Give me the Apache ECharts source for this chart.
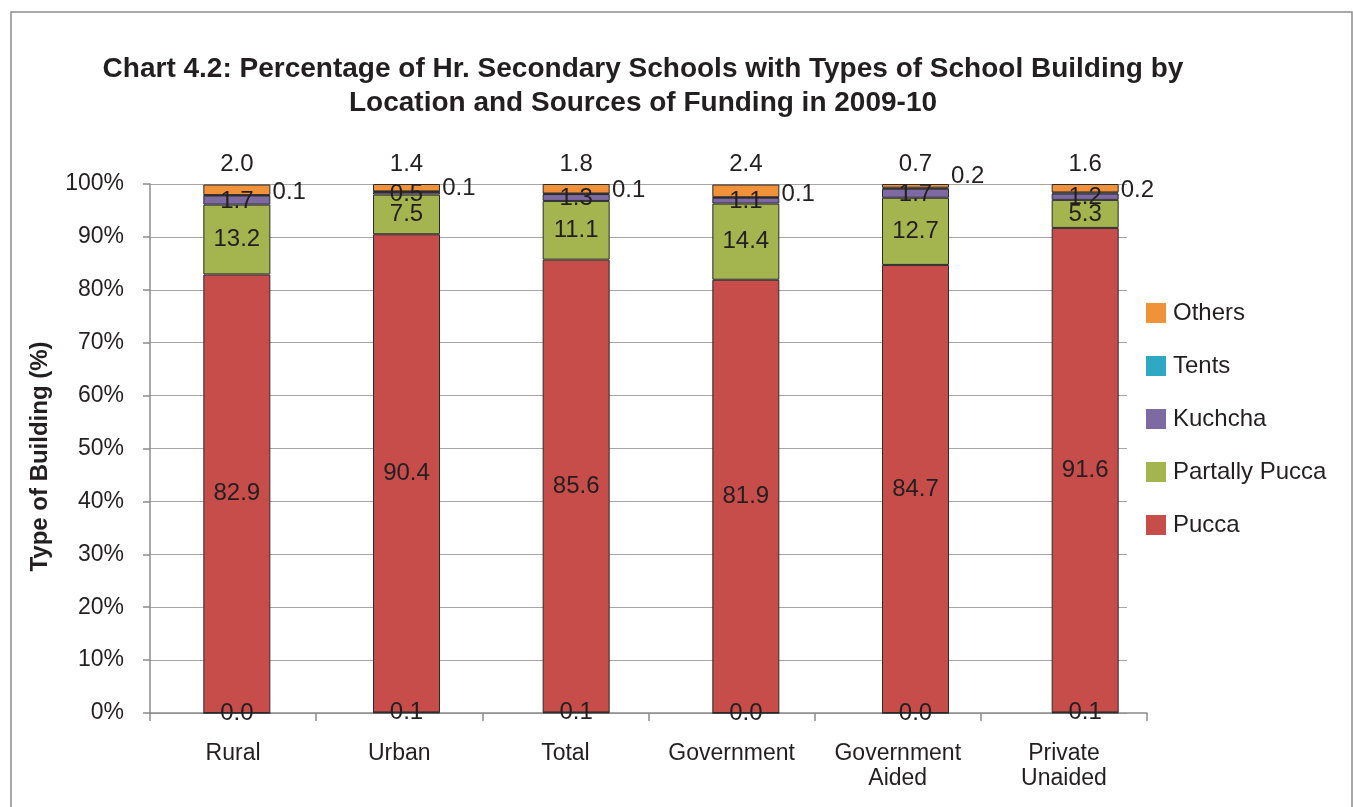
<!DOCTYPE html>
<html>
<head>
<meta charset="utf-8">
<script src="https://cdn.jsdelivr.net/npm/echarts@6/dist/echarts.min.js"></script>
<style>
html,body{margin:0;padding:0;background:#fff;}
#chart{width:1353px;height:807px;}
</style>
</head>
<body>
<div id="chart"></div>
<script>
const categories = ['Rural', 'Urban', 'Total', 'Government', 'Government\nAided', 'Private\nUnaided'];
const baseValues = [0.0, 0.1, 0.1, 0.0, 0.0, 0.1];
const pucca = [82.9, 90.4, 85.6, 81.9, 84.7, 91.6];
const partallyPucca = [13.2, 7.5, 11.1, 14.4, 12.7, 5.3];
const kuchcha = [1.7, 0.5, 1.3, 1.1, 1.7, 1.2];
const tents = [0.1, 0.1, 0.1, 0.1, 0.2, 0.2];
const others = [2.0, 1.4, 1.8, 2.4, 0.7, 1.6];
const yTicks = [0, 10, 20, 30, 40, 50, 60, 70, 80, 90, 100];

const FONT = 'Liberation Sans, Arial, sans-serif';
const TEXT = '#231f20';
const AXIS = '#8c8c8c';
const labelStyle = {
  show: true,
  fontFamily: FONT,
  fontSize: 24,
  color: TEXT,
  formatter: p => Number(p.value).toFixed(1)
};
const border = { borderColor: '#2b2b2b', borderWidth: 1 };

function seriesOf(name, data, color, labelOpts, itemLabel) {
  return {
    name: name,
    type: 'bar',
    stack: 'all',
    xAxisIndex: 2,
    yAxisIndex: 2,
    barWidth: 67,
    data: data.map((v, i) => itemLabel && itemLabel[i] ? { value: v, label: itemLabel[i] } : v),
    itemStyle: Object.assign({ color: color }, border),
    label: Object.assign({}, labelStyle, labelOpts),
    emphasis: { disabled: true }
  };
}

const common = { top: 184, bottom: 94 };
const chart = echarts.init(document.getElementById('chart'), null, { renderer: 'canvas' });
chart.setOption({
  animation: false,
  backgroundColor: '#ffffff',
  title: {
    text: 'Chart 4.2: Percentage of Hr. Secondary Schools with Types of School Building by\nLocation and Sources of Funding in 2009-10',
    left: 638,
    textAlign: 'center',
    top: 47,
    textStyle: {
      fontFamily: FONT,
      fontWeight: 'bold',
      fontSize: 28,
      lineHeight: 34,
      color: TEXT
    }
  },
  graphic: [{
    type: 'rect',
    shape: { x: 11, y: 12, width: 1341, height: 820 },
    style: { fill: 'none', stroke: AXIS, lineWidth: 1.5 },
    silent: true
  }],
  legend: {
    orient: 'vertical',
    left: 1141,
    top: 296,
    itemWidth: 20,
    itemHeight: 20,
    itemGap: 29,
    icon: 'rect',
    data: ['Others', 'Tents', 'Kuchcha', 'Partally Pucca', 'Pucca'],
    textStyle: { fontFamily: FONT, fontSize: 24, lineHeight: 20, color: TEXT, padding: [0, 0, 0, 2] },
    itemStyle: { borderWidth: 0 }
  },
  grid: [
    Object.assign({ left: 150, right: 206 }, common),
    Object.assign({ left: 150, right: 226 }, common),
    Object.assign({ left: 152, right: 183 }, common)
  ],
  xAxis: [{
    gridIndex: 0,
    type: 'category',
    data: categories,
    axisLine: { show: true, lineStyle: { color: AXIS, width: 1.5 } },
    axisTick: { show: true, length: 8, lineStyle: { color: AXIS, width: 1.5 } },
    axisLabel: {
      margin: 28,
      fontFamily: FONT,
      fontSize: 23,
      lineHeight: 25,
      color: TEXT,
      interval: 0
    }
  }, {
    gridIndex: 1,
    type: 'category',
    data: categories,
    show: false
  }, {
    gridIndex: 2,
    type: 'category',
    data: categories,
    show: false
  }],
  yAxis: [{
    gridIndex: 0,
    type: 'value',
    min: 0,
    max: 100,
    interval: 10,
    name: 'Type of Building (%)',
    nameLocation: 'middle',
    nameGap: 98,
    nameRotate: 90,
    nameTextStyle: { fontFamily: FONT, fontWeight: 'bold', fontSize: 24, color: TEXT, padding: [0, 16, 0, 0] },
    axisLine: { show: true, lineStyle: { color: AXIS, width: 1.5 } },
    axisTick: { show: true, inside: false, length: 7, lineStyle: { color: AXIS, width: 1.5 } },
    splitLine: { show: false },
    axisLabel: {
      margin: 26,
      fontFamily: FONT,
      fontSize: 23,
      color: TEXT,
      customValues: yTicks,
      formatter: v => v + '%'
    }
  }, {
    gridIndex: 1,
    type: 'value',
    min: 0,
    max: 100,
    interval: 10,
    axisLine: { show: false },
    axisTick: { show: false },
    axisLabel: { show: false },
    splitLine: { show: true, lineStyle: { color: '#a6a6a6', width: 1.2 } }
  }, {
    gridIndex: 2,
    type: 'value',
    min: 0,
    max: 100,
    interval: 10,
    show: false,
    splitLine: { show: false }
  }],
  series: [
    seriesOf('Base', baseValues, '#c64d4a', { position: 'inside' }),
    seriesOf('Pucca', pucca, '#c64d4a', { position: 'inside' }),
    seriesOf('Partally Pucca', partallyPucca, '#a4b44f', { position: 'inside' }),
    seriesOf('Kuchcha', kuchcha, '#7e6aa3', { position: 'inside', offset: [0, 1] }),
    seriesOf('Tents', tents, '#2ea8c3', { position: 'right', distance: 2, offset: [0, -3] },
      [null, null, null, null, { offset: [0, -12] }, null]),
    seriesOf('Others', others, '#f0923a', { position: 'top', distance: 8 })
  ]
});
</script>
</body>
</html>
